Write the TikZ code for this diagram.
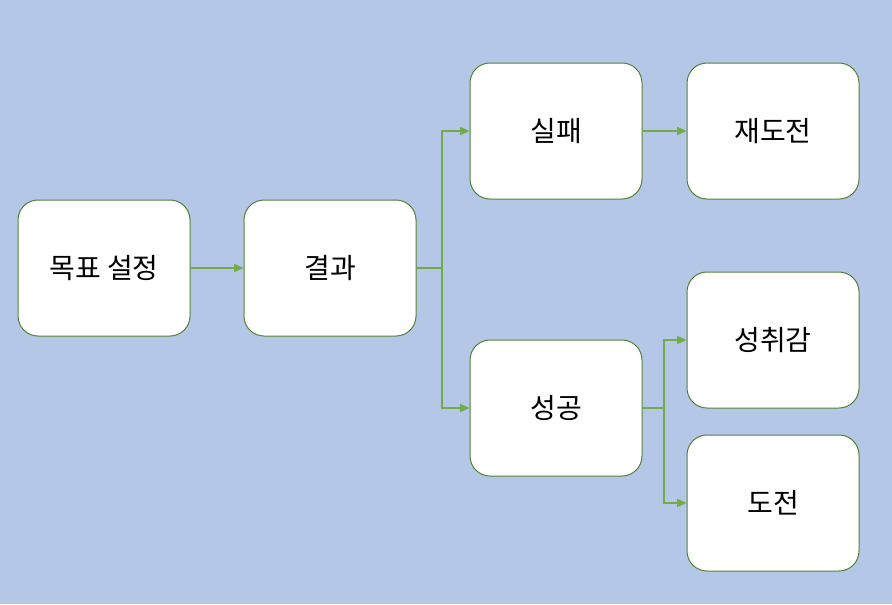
\documentclass[tikz,border=0pt]{standalone}
\usepackage{fontspec}
\setmainfont{Noto Sans CJK KR}
\usetikzlibrary{arrows.meta}

\definecolor{bgblue}{HTML}{B4C7E7}
\definecolor{boxline}{HTML}{548235}
\definecolor{arrowgreen}{HTML}{70AD47}

\tikzset{
  stepbox/.style={draw=boxline, fill=white, line width=0.75pt, rounded corners=15pt,
    minimum width=129pt, minimum height=102pt, inner sep=0pt,
    font=\fontsize{21}{24}\selectfont},
  link/.style={draw=arrowgreen, line width=0.8pt, -{Triangle[length=7pt,width=6pt]}}
}

\begin{document}
\begin{tikzpicture}[x=0.75pt, y=-0.75pt]
  % background
  \fill[bgblue] (0,0) rectangle (892,604);
  \useasboundingbox (0,0) rectangle (892,604);

  % boxes
  \node[stepbox] (goal)    at (104,268) {목표 설정};
  \node[stepbox] (result)  at (330,268) {결과};
  \node[stepbox] (fail)    at (556,131) {실패};
  \node[stepbox] (retry)   at (773,131) {재도전};
  \node[stepbox] (success) at (556,408) {성공};
  \node[stepbox] (pride)   at (773,340) {성취감};
  \node[stepbox] (chall)   at (773,503) {도전};

  % branch points
  \coordinate (split1) at (442,268);
  \coordinate (split2) at (664,408);

  % connectors
  \draw[link] (goal) -- (result);
  \draw[link] (result.east) -- (split1) |- (fail.west);
  \draw[link] (result.east) -- (split1) |- (success.west);
  \draw[link] (fail) -- (retry);
  \draw[link] (success.east) -- (split2) |- (pride.west);
  \draw[link] (success.east) -- (split2) |- (chall.west);
\end{tikzpicture}
\end{document}
